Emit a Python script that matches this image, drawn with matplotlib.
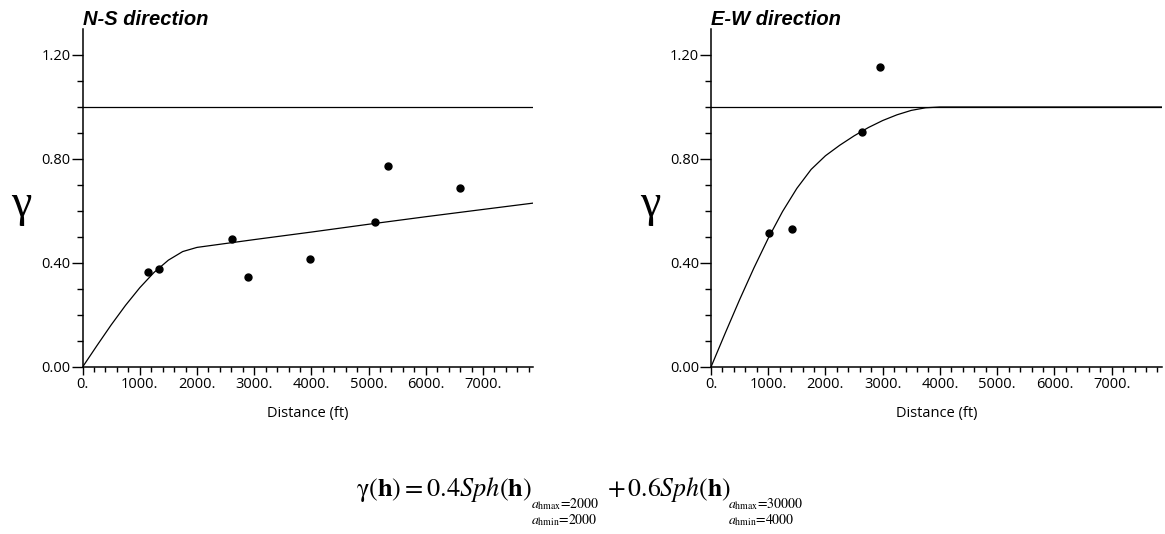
import numpy as np
import matplotlib
matplotlib.use('Agg')
import matplotlib.pyplot as plt
from matplotlib.ticker import FixedLocator, FuncFormatter

# Data
ns_dist = [1140, 1340, 2610, 2900, 3980, 5120, 5345, 6595]
ns_gamma = [0.365, 0.378, 0.493, 0.346, 0.415, 0.557, 0.775, 0.688]
ew_dist = [1010, 1410, 2640, 2945]
ew_gamma = [0.517, 0.530, 0.903, 1.153]

# fitted model curves (read at regular distances)
ns_model_h = [0, 250, 500, 750, 1000, 1250, 1500, 1750, 2000, 3000, 4000, 5000, 6000, 7000, 7900]
ns_model_g = [0, 0.082, 0.162, 0.237, 0.305, 0.364, 0.411, 0.444, 0.460, 0.490, 0.519, 0.549, 0.578, 0.606, 0.631]
ew_model_h = [0, 250, 500, 750, 1000, 1250, 1500, 1750, 2000, 2250, 2500, 2750, 3000, 3250, 3500, 3750, 4000, 7900]
ew_model_g = [0, 0.131, 0.259, 0.381, 0.495, 0.598, 0.687, 0.760, 0.8125, 0.853, 0.889, 0.921, 0.948, 0.970, 0.987, 0.997, 1.0, 1.0]
sill = 1.0

titles = ['N-S direction', 'E-W direction']
xlabel = 'Distance (ft)'
eq_main = r'$\mathrm{γ}(\mathbf{h}) = 0.4\mathit{Sph}(\mathbf{h})$'
eq_plus = r'$+\,0.6\mathit{Sph}(\mathbf{h})$'
eq_sub1 = [r'$a_{\mathrm{hmax}}$=2000', r'$a_{\mathrm{hmin}}$=2000']
eq_sub2 = [r'$a_{\mathrm{hmax}}$=30000', r'$a_{\mathrm{hmin}}$=4000']

plt.rcParams['mathtext.fontset'] = 'stix'
plt.rcParams['font.family'] = ['Open Sans', 'DejaVu Sans']

W, H = 1165, 534
fig = plt.figure(figsize=(W / 100, H / 100), dpi=100)
ax1 = fig.add_axes([82.6 / W, 167 / H, 450.7 / W, 338 / H])
ax2 = fig.add_axes([711 / W, 167 / H, 451 / W, 338 / H])

xfmt = FuncFormatter(lambda v, pos: '%d.' % int(round(v)))
yfmt = FuncFormatter(lambda v, pos: '%.2f' % v)

panels = [(ax1, ns_dist, ns_gamma, ns_model_h, ns_model_g),
          (ax2, ew_dist, ew_gamma, ew_model_h, ew_model_g)]
for i, (ax, xd, yd, mh, mg) in enumerate(panels):
    ax.axhline(sill, color='black', lw=0.9)
    ax.plot(mh, mg, color='black', lw=0.9)
    ax.plot(xd, yd, 'o', color='black', ms=5, clip_on=False)
    ax.set_xlim(0, 7880)
    ax.set_ylim(0, 1.3)
    for s in ['top', 'right']:
        ax.spines[s].set_visible(False)
    for s in ['left', 'bottom']:
        ax.spines[s].set_linewidth(1.1)
    ax.xaxis.set_major_locator(FixedLocator(np.arange(0, 7001, 1000)))
    ax.xaxis.set_minor_locator(FixedLocator(np.arange(0, 7801, 200)))
    ax.yaxis.set_major_locator(FixedLocator([0, 0.4, 0.8, 1.2]))
    ax.yaxis.set_minor_locator(FixedLocator([0.1, 0.2, 0.3, 0.5, 0.6, 0.7, 0.9, 1.0, 1.1]))
    ax.xaxis.set_major_formatter(xfmt)
    ax.yaxis.set_major_formatter(yfmt)
    ax.tick_params(axis='x', which='major', length=6, width=1.0, pad=1, labelsize=10.5)
    ax.tick_params(axis='x', which='minor', length=3.5, width=1.0)
    ax.tick_params(axis='y', which='major', length=8, width=1.0, pad=0.5, labelsize=10.5)
    ax.tick_params(axis='y', which='minor', length=4.5, width=1.0)
    ax.set_xlabel(xlabel, fontsize=10.5, labelpad=10)
    ax.set_ylabel('γ', rotation=0, family='Liberation Serif', fontsize=33,
                  va='center', ha='center')
    ax.yaxis.set_label_coords(-61 / 451, 0.48)
    ax.set_title(titles[i], loc='left', fontsize=14.5, fontweight='bold',
                 fontstyle='italic', family='Liberation Sans', pad=2)

# model equation under the panels
fig.text(356 / W, (H - 496) / H, eq_main, fontsize=19, va='baseline')
fig.text(531 / W, (H - 508) / H, eq_sub1[0], fontsize=10, family='STIXGeneral', va='baseline')
fig.text(531 / W, (H - 524) / H, eq_sub1[1], fontsize=10, family='STIXGeneral', va='baseline')
fig.text(607 / W, (H - 496) / H, eq_plus, fontsize=18.5, va='baseline')
fig.text(728 / W, (H - 508) / H, eq_sub2[0], fontsize=10, family='STIXGeneral', va='baseline')
fig.text(728 / W, (H - 524) / H, eq_sub2[1], fontsize=10, family='STIXGeneral', va='baseline')

fig.savefig('out.png', dpi=100)
